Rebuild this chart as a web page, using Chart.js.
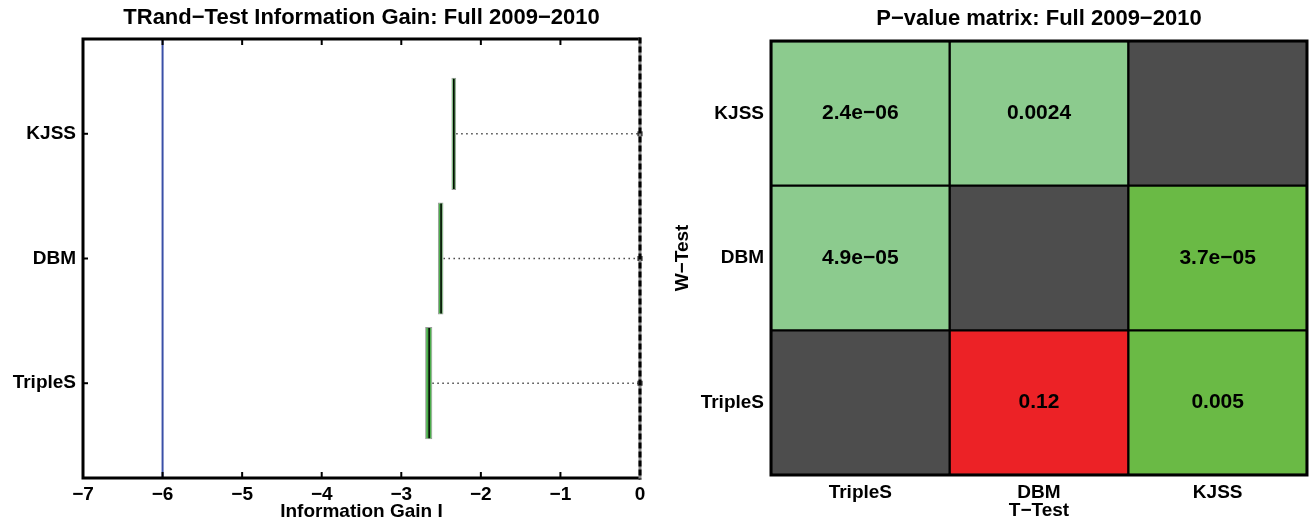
<!DOCTYPE html>
<html>
<head>
<meta charset="utf-8">
<title>TRand-Test / P-value matrix</title>
<script src="https://cdn.jsdelivr.net/npm/chart.js@4.4.1/dist/chart.umd.min.js"></script>
<style>
  html, body { margin: 0; padding: 0; background: #fff; }
  #wrap { position: relative; width: 1310px; height: 522px; }
  canvas { position: absolute; top: 0; }
  #igChart { left: 0; }
  #pChart { left: 655px; }
</style>
</head>
<body>
<div id="wrap">
  <canvas id="igChart" width="655" height="522"></canvas>
  <canvas id="pChart" width="655" height="522"></canvas>
</div>
<script>
// ---- Left chart: information gain (bottom to top) ----
const igModels = ["TripleS", "DBM", "KJSS"];
const igLow  = [-2.70, -2.54, -2.37];
const igHigh = [-2.61, -2.47, -2.31];
const igMean = [-2.65, -2.50, -2.34];
const igRefLine = -6;
const igTicks = [-7, -6, -5, -4, -3, -2, -1, 0];

// ---- Right chart: p-value matrix (rows bottom to top) ----
const pCols = ["TripleS", "DBM", "KJSS"];
const pRows = ["TripleS", "DBM", "KJSS"];
const pTripleS = [null, "0.12", "0.005"];
const pDBM     = ["4.9e\u221205", null, "3.7e\u221205"];
const pKJSS    = ["2.4e\u221206", "0.0024", null];
// which test the cell belongs to
const kTripleS = ["self", "notSig", "tTest"];
const kDBM     = ["wTest", "self", "tTest"];
const kKJSS    = ["wTest", "wTest", "self"];

const FONT = "'Liberation Sans', Arial, Helvetica, sans-serif";
Chart.defaults.font.family = FONT;
Chart.defaults.color = "#000";

const minus = (v) => String(v).replace("-", "\u2212");

// ---- Left chart ----
const igPos = igModels.map((m, i) => i + 1);

const igDatasets = [{
  type: "bar",
  data: igModels.map((m, i) => ({ x: [igLow[i], igHigh[i]], y: igPos[i] })),
  backgroundColor: "#4cae4c",
  borderColor: "#9a9a9a",
  borderWidth: 1,
  borderSkipped: false,
  categoryPercentage: 0.9,
  barPercentage: 1
}];

// dotted connector from each bar to zero
igModels.forEach((m, i) => {
  igDatasets.push({
    type: "line",
    data: [{ x: igHigh[i], y: igPos[i] }, { x: 0, y: igPos[i] }],
    borderColor: "#444",
    borderWidth: 1.5,
    borderDash: [1.5, 3.5],
    pointRadius: [0, 3.5],
    pointStyle: "rect",
    pointBackgroundColor: "#000",
    pointBorderColor: "#000",
    pointBorderWidth: 0,
    clip: false
  });
});

const igPlugin = {
  id: "igFrame",
  beforeDatasetsDraw(chart) {
    const { ctx, chartArea: a, scales } = chart;
    const xr = scales.x.getPixelForValue(igRefLine);
    ctx.save();
    ctx.strokeStyle = "#3a50a8";
    ctx.lineWidth = 2;
    ctx.beginPath();
    ctx.moveTo(xr, a.top);
    ctx.lineTo(xr, a.bottom);
    ctx.stroke();
    ctx.restore();
  },
  afterDatasetsDraw(chart) {
    const { ctx, chartArea: a, scales } = chart;
    ctx.save();
    // black line at the mean inside each bar
    const bars = chart.getDatasetMeta(0).data;
    bars.forEach((b, i) => {
      const xm = scales.x.getPixelForValue(igMean[i]);
      ctx.strokeStyle = "#000";
      ctx.lineWidth = 1.5;
      ctx.beginPath();
      ctx.moveTo(xm, b.y - b.height / 2 + 1);
      ctx.lineTo(xm, b.y + b.height / 2 - 1);
      ctx.stroke();
    });
    // frame
    ctx.strokeStyle = "#000";
    ctx.lineWidth = 3;
    ctx.beginPath();
    ctx.moveTo(a.right, a.top);
    ctx.lineTo(a.left, a.top);
    ctx.lineTo(a.left, a.bottom);
    ctx.lineTo(a.right, a.bottom);
    ctx.stroke();
    // right edge: gray with black dashes (zero line)
    ctx.strokeStyle = "#888";
    ctx.beginPath();
    ctx.moveTo(a.right, a.top - 1.5);
    ctx.lineTo(a.right, a.bottom + 1.5);
    ctx.stroke();
    ctx.strokeStyle = "#000";
    ctx.setLineDash([6, 3]);
    ctx.stroke();
    ctx.setLineDash([]);
    // inward ticks
    ctx.lineWidth = 2;
    igTicks.slice(1, -1).forEach((t) => {
      const x = scales.x.getPixelForValue(t);
      ctx.beginPath();
      ctx.moveTo(x, a.top);
      ctx.lineTo(x, a.top + 6);
      ctx.moveTo(x, a.bottom);
      ctx.lineTo(x, a.bottom - 6);
      ctx.stroke();
    });
    igPos.forEach((p) => {
      const y = scales.y.getPixelForValue(p);
      ctx.beginPath();
      ctx.moveTo(a.left, y);
      ctx.lineTo(a.left + 5, y);
      ctx.stroke();
    });
    // title
    ctx.fillStyle = "#000";
    ctx.font = "bold 22px " + FONT;
    ctx.textAlign = "center";
    ctx.textBaseline = "middle";
    ctx.fillText("TRand\u2212Test Information Gain: Full 2009\u22122010", (a.left + a.right) / 2, 18);
    ctx.restore();
  }
};

new Chart(document.getElementById("igChart"), {
  type: "bar",
  data: { datasets: igDatasets },
  options: {
    responsive: false,
    animation: false,
    indexAxis: "y",
    layout: { padding: { top: 39, right: 15, left: 0, bottom: 0 } },
    plugins: { legend: { display: false }, tooltip: { enabled: false } },
    scales: {
      x: {
        type: "linear",
        min: -7,
        max: 0,
        afterBuildTicks: (s) => { s.ticks = igTicks.map((v) => ({ value: v })); },
        afterFit: (s) => { s.height = 44; },
        grid: { display: false, drawTicks: false },
        border: { display: false },
        ticks: { font: { size: 19, weight: "bold", lineHeight: 1 }, padding: 7, maxRotation: 0, autoSkip: false, callback: (v) => minus(v) },
        title: { display: true, text: "Information Gain I", font: { size: 19, weight: "bold", lineHeight: 1 }, padding: { top: 0, bottom: 1 } }
      },
      y: {
        type: "linear",
        offset: false,
        min: 0.24,
        max: 3.76,
        afterBuildTicks: (s) => { s.ticks = igPos.map((v) => ({ value: v })); },
        afterFit: (s) => { s.width = 83; },
        grid: { display: false, drawTicks: false },
        border: { display: false },
        ticks: { font: { size: 19, weight: "bold" }, padding: 7, callback: (v, i) => igModels[i] }
      }
    }
  },
  plugins: [igPlugin]
});

// ---- Right chart ----
const cellColors = { wTest: "#8ccb8e", tTest: "#6aba45", notSig: "#ec2226", self: "#4d4d4d" };
const rowValues = [pTripleS, pDBM, pKJSS];
const rowKinds = [kTripleS, kDBM, kKJSS];

const pDatasets = pRows.map((r, ri) => ({
  label: r,
  data: pCols.map(() => [ri, ri + 1]),
  backgroundColor: rowKinds[ri].map((k) => cellColors[k]),
  borderColor: "#000",
  borderWidth: 1.5,
  borderSkipped: false,
  categoryPercentage: 1,
  barPercentage: 1,
  grouped: false
}));

const pPlugin = {
  id: "pFrame",
  afterDatasetsDraw(chart) {
    const { ctx, chartArea: a } = chart;
    ctx.save();
    // p-value text in cells
    ctx.fillStyle = "#000";
    ctx.font = "bold 21px " + FONT;
    ctx.textAlign = "center";
    ctx.textBaseline = "middle";
    rowValues.forEach((vals, ri) => {
      chart.getDatasetMeta(ri).data.forEach((el, ci) => {
        if (vals[ci] === null) return;
        ctx.fillText(vals[ci], el.x, (el.y + el.base) / 2);
      });
    });
    // frame
    ctx.strokeStyle = "#000";
    ctx.lineWidth = 3;
    ctx.strokeRect(a.left, a.top, a.right - a.left, a.bottom - a.top);
    // title
    ctx.font = "bold 22px " + FONT;
    ctx.fillText("P\u2212value matrix: Full 2009\u22122010", (a.left + a.right) / 2, 19);
    ctx.restore();
  }
};

new Chart(document.getElementById("pChart"), {
  type: "bar",
  data: { labels: pCols, datasets: pDatasets },
  options: {
    responsive: false,
    animation: false,
    layout: { padding: { top: 41, right: 3, left: 0, bottom: 0 } },
    plugins: { legend: { display: false }, tooltip: { enabled: false } },
    scales: {
      x: {
        type: "category",
        afterFit: (s) => { s.height = 47; },
        grid: { display: false, drawTicks: false },
        border: { display: false },
        ticks: { font: { size: 19, weight: "bold", lineHeight: 1 }, padding: 8 },
        title: { display: true, text: "T\u2212Test", font: { size: 19, weight: "bold", lineHeight: 1 }, padding: { top: 0, bottom: 2 } }
      },
      y: {
        type: "linear",
        min: 0,
        max: 3,
        afterBuildTicks: (s) => { s.ticks = pRows.map((r, i) => ({ value: i + 0.5 })); },
        afterFit: (s) => { s.width = 116; },
        grid: { display: false, drawTicks: false },
        border: { display: false },
        ticks: { font: { size: 19, weight: "bold" }, padding: 7, callback: (v, i) => pRows[i] },
        title: { display: true, text: "W\u2212Test", font: { size: 19, weight: "bold", lineHeight: 1 }, padding: { top: 18, bottom: 0 } }
      }
    }
  },
  plugins: [pPlugin]
});
</script>
</body>
</html>
